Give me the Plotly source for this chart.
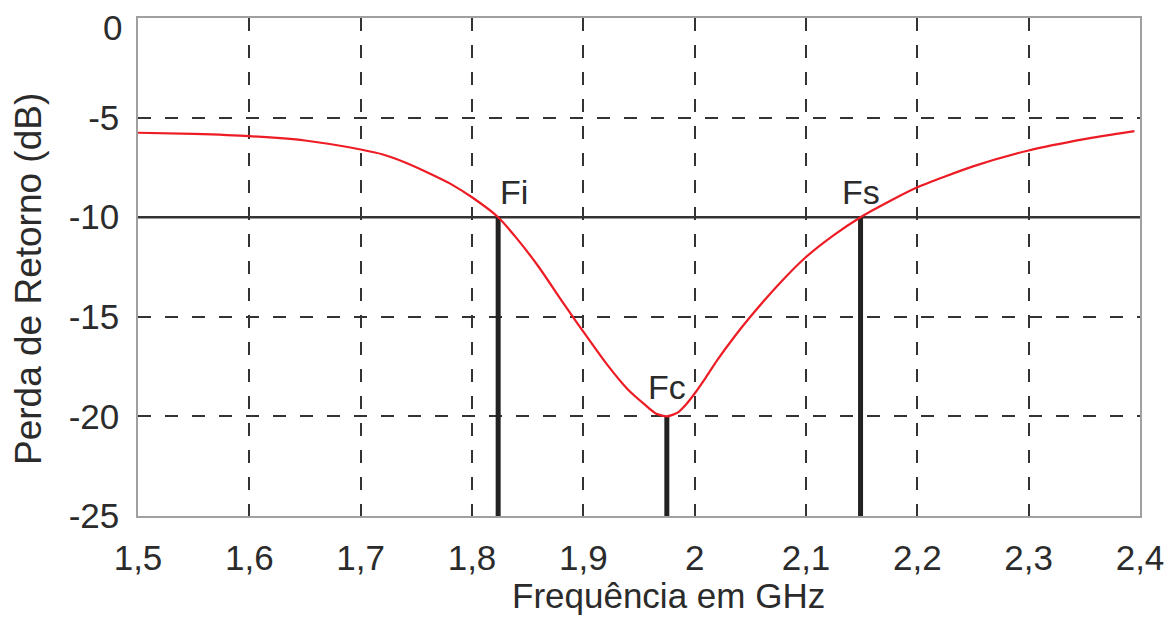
import plotly.graph_objects as go

# Return loss of the antenna versus frequency
freq_ghz = [1.50, 1.55, 1.60, 1.65, 1.70, 1.72, 1.74, 1.76, 1.78, 1.80, 1.8235,
            1.84, 1.86, 1.88, 1.89, 1.90, 1.92, 1.94, 1.955, 1.965, 1.975,
            1.985, 1.993, 2.00, 2.01, 2.02, 2.035, 2.05, 2.075, 2.10, 2.125, 2.149,
            2.175, 2.20, 2.25, 2.30, 2.35, 2.395]
return_loss_db = [-5.76, -5.82, -5.93, -6.15, -6.60, -6.85, -7.25, -7.75, -8.30, -9.00, -10.0,
                  -11.05, -12.5, -14.15, -14.95, -15.75, -17.3, -18.65, -19.4, -19.85, -20.0,
                  -19.8, -19.35, -18.85, -18.05, -17.2, -16.05, -15.0, -13.4, -12.0, -10.9, -10.0,
                  -9.2, -8.5, -7.45, -6.65, -6.08, -5.68]

# Lower, centre and upper frequencies of the band
marker_names = ["Fi", "Fc", "Fs"]
marker_freq = [1.8235, 1.975, 2.149]
marker_db = [-10.0, -20.0, -10.0]

threshold_db = -10.0

x_tick_vals = [1.5, 1.6, 1.7, 1.8, 1.9, 2.0, 2.1, 2.2, 2.3, 2.4]
x_tick_text = ["1,5", "1,6", "1,7", "1,8", "1,9", "2", "2,1", "2,2", "2,3", "2,4"]
y_tick_vals = [0, -5, -10, -15, -20, -25]
y_tick_text = ["0", "-5", "-10", "-15", "-20", "-25"]

x_title = "Frequência em GHz"
y_title = "Perda de Retorno (dB)"

FONT = "Liberation Sans, Arial, sans-serif"
TEXT = "#2b2b2b"

# Plot area in pixels
W, H = 1170, 617
ML, MR, MT, MB = 138, 30, 18, 101
PW, PH = W - ML - MR, H - MT - MB


def px_to_paper(px, py):
    """Pixel position (from top-left of the page) to paper coordinates."""
    return (px - ML) / PW, (H - py - MB) / PH


fig = go.Figure()

# -10 dB reference line
fig.add_trace(go.Scatter(
    x=[x_tick_vals[0], x_tick_vals[-1]], y=[threshold_db, threshold_db],
    mode="lines", line=dict(color="#333333", width=2.5),
    hoverinfo="skip", showlegend=False,
))

# Vertical bars at Fi, Fc, Fs
for name, f, db in zip(marker_names, marker_freq, marker_db):
    fig.add_trace(go.Scatter(
        x=[f, f], y=[y_tick_vals[-1], db],
        mode="lines", line=dict(color="#222222", width=5),
        name=name, showlegend=False,
    ))

# Return loss curve
fig.add_trace(go.Scatter(
    x=freq_ghz, y=return_loss_db, mode="lines",
    line=dict(color="#ed1c24", width=2.2, shape="spline", smoothing=0.6),
    showlegend=False,
))

# Labels of the marked frequencies
label_pos = {"Fi": ("left", 4), "Fc": ("center", 8), "Fs": ("center", 4)}
for name, f, db in zip(marker_names, marker_freq, marker_db):
    anchor, ys = label_pos[name]
    fig.add_annotation(
        x=f, y=db, text=name, showarrow=False,
        xanchor=anchor, yanchor="bottom", yshift=ys,
        font=dict(family=FONT, size=34, color=TEXT),
    )

# Top tick label sits just inside the page, below its gridline
fig.add_annotation(
    x=0, y=y_tick_vals[0], xref="paper", yref="y", text=y_tick_text[0],
    showarrow=False, xanchor="right", yanchor="middle", xshift=-14, yshift=-9,
    font=dict(family=FONT, size=35, color=TEXT),
)

# Axis titles
tx, ty = px_to_paper(668, 595)
fig.add_annotation(
    x=tx, y=ty, xref="paper", yref="paper", text=x_title, showarrow=False,
    xanchor="center", yanchor="middle", font=dict(family=FONT, size=35, color=TEXT),
)
tx, ty = px_to_paper(28, 279)
fig.add_annotation(
    x=tx, y=ty, xref="paper", yref="paper", text=y_title, showarrow=False,
    textangle=-90, xanchor="center", yanchor="middle",
    font=dict(family=FONT, size=37, color=TEXT),
)

fig.update_xaxes(
    range=[1.5, 2.4], tickvals=x_tick_vals, ticktext=x_tick_text,
    showgrid=True, gridcolor="#333333", gridwidth=2, griddash="13px,14px",
    showline=True, linecolor="#a0a0a0", linewidth=1.5, mirror=True,
    ticks="", ticklabelstandoff=10, zeroline=False, ticklabeloverflow="allow",
    tickfont=dict(family=FONT, size=35, color=TEXT),
)
fig.update_yaxes(
    range=[-25, 0], tickvals=y_tick_vals[1:], ticktext=y_tick_text[1:],
    showgrid=True, gridcolor="#333333", gridwidth=2, griddash="13px,14px",
    showline=True, linecolor="#a0a0a0", linewidth=1.5, mirror=True,
    ticks="", ticklabelstandoff=10, zeroline=False, ticklabeloverflow="allow",
    tickfont=dict(family=FONT, size=35, color=TEXT),
)

fig.update_layout(
    width=W, height=H,
    margin=dict(l=ML, r=MR, t=MT, b=MB, autoexpand=False),
    paper_bgcolor="white", plot_bgcolor="white",
    separators=",.",
)

fig.write_html("out.html")
